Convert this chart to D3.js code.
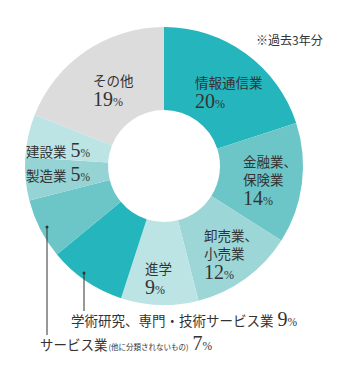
<!DOCTYPE html>
<html><head><meta charset="utf-8">
<script src="https://cdn.jsdelivr.net/npm/d3@7"></script>
<style>
body{margin:0;background:#fff;}
svg{display:block;}
</style></head>
<body>
<svg id="chart" width="346" height="372"></svg>
<script>
const categories = ["情報通信業","金融業、保険業","卸売業、小売業","進学","学術研究、専門・技術サービス業","サービス業(他に分類されないもの)","製造業","建設業","その他"];
const values = [20,14,12,9,9,7,5,5,19];
const colors = ["#25b5bc","#6cc6c8","#9dd6d7","#bde4e4","#25b5bc","#6cc6c8","#95d3d4","#bde4e4","#dcdcdc"];
const note = "※過去3年分";

const svg = d3.select("#chart");
const cx = 164, cy = 166, R = 139, r = 56;
const jp = "'Noto Sans CJK JP', sans-serif";
const num = "'Liberation Serif', 'DejaVu Serif', serif";
const txt = "#333";

const pie = d3.pie().value(d => d).sort(null);
const arc = d3.arc().innerRadius(r).outerRadius(R);
const g = svg.append("g").attr("transform", `translate(${cx},${cy})`);
g.selectAll("path").data(pie(values)).join("path")
  .attr("d", arc).attr("fill", (d,i) => colors[i]);

function label(x, y, lines, pct) {
  const t = svg.append("g");
  lines.forEach((l, k) => {
    t.append("text").attr("x", x).attr("y", y + k*18)
      .attr("font-family", jp).attr("font-size", 13.5).attr("fill", txt).text(l);
  });
  const py = y + (lines.length-1)*18 + 19.5;
  const p = t.append("text").attr("x", x).attr("y", py).attr("fill", txt).attr("font-family", num);
  p.append("tspan").attr("font-size", 20).text(pct);
  p.append("tspan").attr("font-size", 12).text("%");
}
label(195, 88, ["情報通信業"], values[0]);
label(243, 167, ["金融業、","保険業"], values[1]);
label(204, 241, ["卸売業、","小売業"], values[2]);
label(145, 274, ["進学"], values[3]);
label(93, 86, ["その他"], values[8]);

function inline(x, y, main, small, pct) {
  const t = svg.append("text").attr("x", x).attr("y", y).attr("fill", txt);
  t.append("tspan").attr("font-family", jp).attr("font-size", 13.5).text(main);
  if (small) t.append("tspan").attr("font-family", jp).attr("font-size", 7.5).attr("dx", 1).text(small);
  t.append("tspan").attr("font-family", num).attr("font-size", 20).attr("dx", 4).text(pct);
  t.append("tspan").attr("font-family", num).attr("font-size", 11.5).text("%");
}
inline(26, 157, "建設業", null, values[7]);
inline(26, 181, "製造業", null, values[6]);
inline(71, 326, "学術研究、専門・技術サービス業", null, values[4]);
inline(40, 350, "サービス業", "(他に分類されないもの)", values[5]);

const leaders = [[84, 273, 311],[47, 227, 335]];
leaders.forEach(([x, y1, y2]) => {
  svg.append("line").attr("x1", x).attr("x2", x).attr("y1", y1).attr("y2", y2)
    .attr("stroke", "#333").attr("stroke-width", 1);
  svg.append("circle").attr("cx", x).attr("cy", y1).attr("r", 1.5).attr("fill", "#333");
});

svg.append("text").attr("x", 256).attr("y", 45).attr("font-family", jp)
  .attr("font-size", 12).attr("fill", txt).text(note);
</script>
</body></html>
